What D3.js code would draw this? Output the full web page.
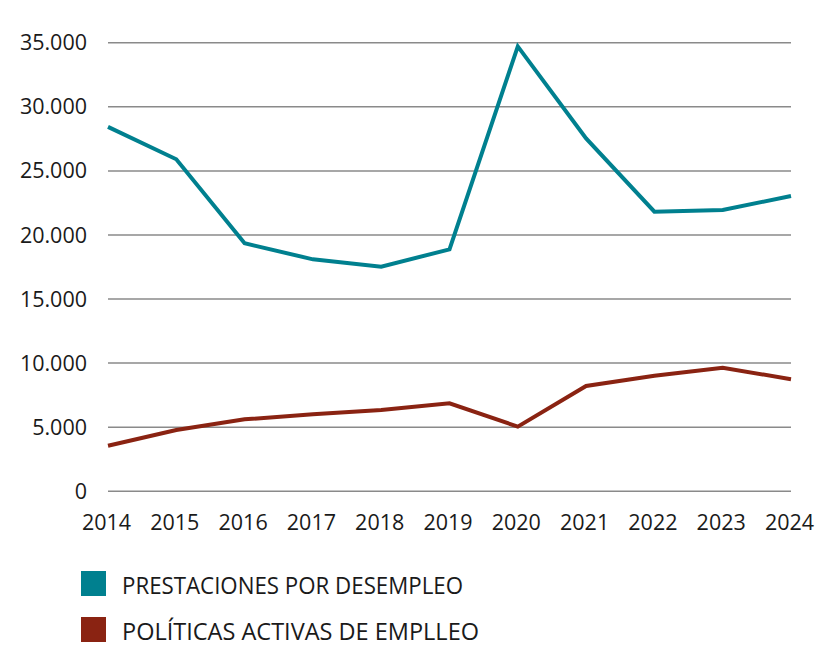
<!DOCTYPE html>
<html><head><meta charset="utf-8">
<script src="https://cdn.jsdelivr.net/npm/d3@7/dist/d3.min.js"></script>
<style>body{margin:0;background:#fff}svg{display:block}</style>
</head><body>
<script>
const years = [2014,2015,2016,2017,2018,2019,2020,2021,2022,2023,2024];
const prestaciones = [28400,25870,19310,18060,17490,18840,34680,27500,21780,21910,23000];
const politicas = [3510,4740,5570,5960,6300,6820,5000,8170,8980,9600,8700];
const yTicks = [0,5000,10000,15000,20000,25000,30000,35000];
const seriesNames = ["PRESTACIONES POR DESEMPLEO","POLÍTICAS ACTIVAS DE EMPLLEO"];
const colors = ["#00808f","#8a2312"];

const W=838,H=660;
const svg=d3.select("body").append("svg").attr("width",W).attr("height",H);
const x=d3.scaleLinear().domain([2014,2024]).range([108,791]);
const y=d3.scaleLinear().domain([0,35000]).range([490.7,42.3]);
const font="'Open Sans', 'Noto Sans', sans-serif";
const fmt=v=>v===0?"0":d3.format(",")(v).replace(/,/g,".");

const gy=svg.append("g").attr("transform","translate(108,0)")
  .call(d3.axisLeft(y).tickValues(yTicks).tickSize(-683).tickFormat(fmt).tickPadding(20));
gy.select(".domain").remove();
gy.selectAll(".tick line").attr("stroke","#8a8a8a").attr("stroke-width",1.5);
gy.selectAll(".tick text").attr("font-family",font).attr("font-size",21.5).attr("fill","#1a1a1a").attr("dy","0.35em").attr("x",-21);

const gx=svg.append("g").attr("transform","translate(0,491)")
  .call(d3.axisBottom(x).tickValues(years).tickFormat(d3.format("d")).tickSize(0).tickPadding(24));
gx.select(".domain").remove();
gx.selectAll(".tick text").attr("font-family",font).attr("font-size",21.5).attr("fill","#1a1a1a").attr("dx",-2);

const line=d3.line().x((d,i)=>x(years[i])).y(d=>y(d));
[prestaciones,politicas].forEach((s,k)=>{
  svg.append("path").datum(s).attr("d",line).attr("fill","none")
    .attr("stroke",colors[k]).attr("stroke-width",4).attr("stroke-linejoin","miter");
});

const lg=svg.append("g");
seriesNames.forEach((n,i)=>{
  const yy=571+i*46;
  lg.append("rect").attr("x",81).attr("y",yy).attr("width",25).attr("height",25).attr("fill",colors[i]);
  lg.append("text").attr("x",122).attr("y",yy+22.5).text(n)
    .attr("font-family",font).attr("font-size",23).attr("fill","#1a1a1a")
    .attr("textLength",i===0?341:357).attr("lengthAdjust","spacingAndGlyphs");
});
</script>
</body></html>
